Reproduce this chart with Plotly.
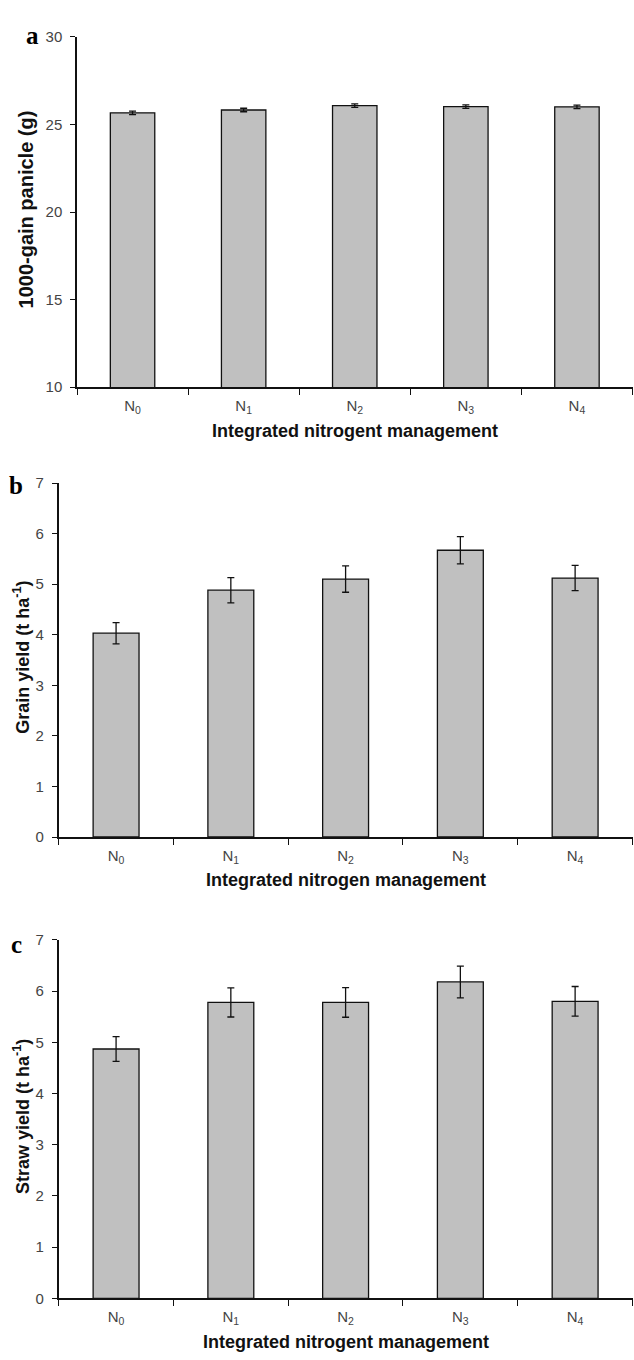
import plotly.graph_objects as go

# Treatments
categories = ["N0", "N1", "N2", "N3", "N4"]
tick_labels = ["N<sub>0</sub>", "N<sub>1</sub>", "N<sub>2</sub>", "N<sub>3</sub>", "N<sub>4</sub>"]

# (a) 1000-grain weight (g)
grain_weight = [25.67, 25.83, 26.08, 26.02, 26.01]
grain_weight_err = [0.10, 0.10, 0.10, 0.10, 0.10]

# (b) Grain yield (t/ha)
grain_yield = [4.03, 4.88, 5.10, 5.67, 5.12]
grain_yield_err = [0.21, 0.25, 0.26, 0.27, 0.25]

# (c) Straw yield (t/ha)
straw_yield = [4.87, 5.78, 5.78, 6.18, 5.80]
straw_yield_err = [0.24, 0.285, 0.29, 0.31, 0.29]

W, H = 634, 1360
NARROW = "Liberation Sans Narrow, Arial Narrow, Liberation Sans, Arial, sans-serif"
SANS = "Liberation Sans, Arial, sans-serif"
SERIF = "Liberation Serif, Times New Roman, serif"
TICK_COLOR = "#444444"


def px_x(x):
    return x / W


def px_y(y):
    return 1 - y / H


panels = [
    dict(vals=grain_weight, errs=grain_weight_err, xdom=(77, 632.5), ydom=(383, 28.3),
         yrange=[10, 30], dtick=5, ytitle="1000-gain panicle (g)", ytitle_xy=(26, 203),
         ytitle_size=20,
         xtitle="Integrated nitrogent management", letter="a", letter_xy=(32, 27),
         cap=3.5),
    dict(vals=grain_yield, errs=grain_yield_err, xdom=(58.7, 632.5), ydom=(838.5, 480),
         yrange=[0, 7], dtick=1, ytitle="Grain yield (t ha<sup>-1</sup>)", ytitle_xy=(22, 657),
         ytitle_size=18,
         xtitle="Integrated nitrogen management", letter="b", letter_xy=(16, 483),
         cap=3.5),
    dict(vals=straw_yield, errs=straw_yield_err, xdom=(58.7, 632.5), ydom=(1305.7, 942.7),
         yrange=[0, 7], dtick=1, ytitle="Straw yield (t ha<sup>-1</sup>)", ytitle_xy=(22, 1122),
         ytitle_size=18,
         xtitle="Integrated nitrogent management", letter="c", letter_xy=(16, 947),
         cap=3.5),
]

fig = go.Figure()
annotations = []
layout = {}

for i, p in enumerate(panels, start=1):
    sfx = "" if i == 1 else str(i)
    fig.add_trace(go.Bar(
        x=categories, y=p["vals"],
        xaxis="x" + sfx, yaxis="y" + sfx,
        width=0.4,
        marker=dict(color="#c0c0c0", line=dict(color="#111111", width=1.3)),
        error_y=dict(type="data", array=p["errs"], visible=True,
                     color="#111111", thickness=1.3, width=p["cap"]),
        showlegend=False,
    ))

    x0, x1 = p["xdom"]
    yb, yt = p["ydom"]
    layout["xaxis" + sfx] = dict(
        domain=[px_x(x0), px_x(x1)], anchor="y" + sfx,
        type="category", range=[-0.5, 4.5],
        tickmode="array", tickvals=categories, ticktext=tick_labels,
        tickson="boundaries", ticks="outside", ticklen=6, tickwidth=1.2,
        tickcolor="#111111", ticklabelstandoff=4,
        showline=True, linecolor="#111111", linewidth=1.5,
        showgrid=False, zeroline=False,
        tickfont=dict(family=NARROW, size=15, color=TICK_COLOR),
    )
    layout["yaxis" + sfx] = dict(
        domain=[px_y(yb), px_y(yt)], anchor="x" + sfx,
        range=p["yrange"], dtick=p["dtick"], tick0=p["yrange"][0],
        ticks="outside", ticklen=5, tickwidth=1.2, tickcolor="#111111",
        ticklabelstandoff=5,
        showline=True, linecolor="#111111", linewidth=1.5,
        showgrid=False, zeroline=False,
        tickfont=dict(family=NARROW, size=15, color=TICK_COLOR),
    )

    # axis titles and panel letter
    annotations.append(dict(
        text="<b>" + p["xtitle"] + "</b>", xref="paper", yref="paper",
        x=px_x((x0 + x1) / 2), y=px_y(yb + 44), xanchor="center", yanchor="middle",
        showarrow=False, font=dict(family=NARROW, size=18, color="#111111"),
    ))
    annotations.append(dict(
        text="<b>" + p["ytitle"] + "</b>", xref="paper", yref="paper",
        x=px_x(p["ytitle_xy"][0]), y=px_y(p["ytitle_xy"][1]),
        xanchor="center", yanchor="middle",
        textangle=-90, showarrow=False,
        font=dict(family=SANS, size=p["ytitle_size"], color="#111111"),
    ))
    annotations.append(dict(
        text="<b>" + p["letter"] + "</b>", xref="paper", yref="paper",
        x=px_x(p["letter_xy"][0]), y=px_y(p["letter_xy"][1]), xanchor="center", yanchor="middle",
        showarrow=False, font=dict(family=SERIF, size=25, color="#000000"),
    ))

fig.update_layout(
    width=W, height=H,
    margin=dict(l=0, r=0, t=0, b=0),
    paper_bgcolor="white", plot_bgcolor="white",
    annotations=annotations,
    bargap=0.6,
    **layout,
)

fig.write_html("out.html")
